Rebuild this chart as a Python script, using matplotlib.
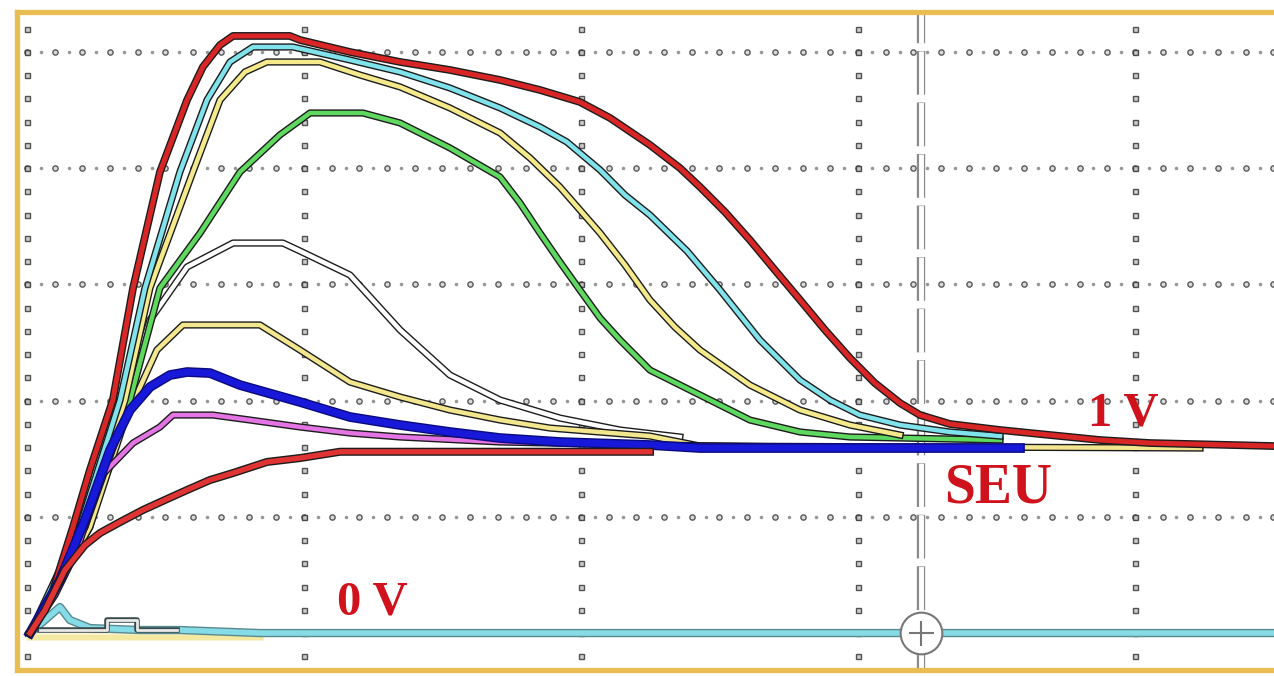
import numpy as np
import matplotlib.pyplot as plt
import matplotlib.patheffects as pe

# scope traces, in screen divisions (x: time div, y: volt div, 0 = ground line)
red_hi_x = [0.011, 0.083, 0.166, 0.227, 0.310, 0.383, 0.480, 0.578, 0.635, 0.697, 0.744, 0.949, 0.986, 1.166,
            1.347, 1.527, 1.708, 1.852, 1.996, 2.105, 2.249, 2.357, 2.430, 2.520, 2.610, 2.700, 2.791, 2.881,
            2.971, 3.061, 3.152, 3.224, 3.332, 3.513, 3.693, 3.874, 4.054, 4.502]
red_hi_y = [0.0, 0.284, 0.912, 1.403, 2.005, 2.969, 3.967, 4.587, 4.871, 5.060, 5.138, 5.138, 5.103, 5.000,
            4.914, 4.845, 4.759, 4.673, 4.570, 4.432, 4.200, 4.002, 3.838, 3.623, 3.382, 3.124, 2.866, 2.608,
            2.367, 2.151, 1.979, 1.876, 1.799, 1.747, 1.704, 1.661, 1.635, 1.609]

cyan_x = [0.011, 0.191, 0.336, 0.426, 0.552, 0.650, 0.733, 0.816, 0.960, 1.166, 1.347, 1.527, 1.708, 1.852,
          1.949, 2.069, 2.159, 2.249, 2.383, 2.502, 2.646, 2.791, 2.899, 3.007, 3.152, 3.332, 3.513]
cyan_y = [0.0, 0.912, 2.005, 2.969, 3.967, 4.587, 4.914, 5.043, 5.043, 4.931, 4.828, 4.690, 4.518, 4.355,
          4.226, 3.985, 3.769, 3.597, 3.287, 2.952, 2.522, 2.177, 2.005, 1.876, 1.790, 1.730, 1.695]

yellow_x = [0.011, 0.209, 0.354, 0.444, 0.599, 0.697, 0.787, 0.866, 1.058, 1.202, 1.347, 1.527, 1.708, 1.816,
            1.924, 2.069, 2.159, 2.249, 2.339, 2.430, 2.610, 2.791, 2.971, 3.152]
yellow_y = [0.0, 0.912, 2.005, 2.969, 3.967, 4.587, 4.828, 4.914, 4.914, 4.802, 4.699, 4.518, 4.303, 4.088,
            3.838, 3.442, 3.167, 2.866, 2.633, 2.435, 2.134, 1.919, 1.790, 1.704]

green_x = [0.011, 0.209, 0.372, 0.480, 0.625, 0.769, 0.913, 1.022, 1.213, 1.347, 1.527, 1.708, 1.780, 1.852,
           1.924, 1.996, 2.069, 2.141, 2.249, 2.430, 2.610, 2.791, 2.971, 3.513]
green_y = [0.0, 0.912, 2.005, 2.969, 3.442, 3.967, 4.286, 4.475, 4.475, 4.389, 4.174, 3.924, 3.700, 3.442,
           3.193, 2.952, 2.711, 2.522, 2.263, 2.048, 1.833, 1.730, 1.687, 1.661]

white_x = [0.011, 0.227, 0.354, 0.444, 0.578, 0.744, 0.924, 0.986, 1.166, 1.347, 1.527, 1.708, 1.924, 2.141,
           2.357]
white_y = [0.0, 0.912, 2.005, 2.694, 3.150, 3.356, 3.356, 3.287, 3.081, 2.608, 2.220, 2.005, 1.850, 1.747,
           1.687]

pale_x = [0.011, 0.227, 0.354, 0.469, 0.563, 0.841, 0.986, 1.166, 1.347, 1.527, 1.708, 1.888, 2.249, 2.430,
          4.235]
pale_y = [0.0, 0.912, 1.833, 2.435, 2.651, 2.651, 2.435, 2.160, 2.031, 1.919, 1.833, 1.764, 1.695, 1.609,
          1.592]

blue_x = [0.011, 0.119, 0.209, 0.300, 0.372, 0.444, 0.516, 0.578, 0.661, 0.769, 0.986, 1.166, 1.347, 1.527,
          1.708, 1.924, 2.249, 2.430, 3.585]
blue_y = [0.0, 0.456, 0.972, 1.575, 1.919, 2.117, 2.220, 2.246, 2.237, 2.134, 1.988, 1.859, 1.790, 1.730,
          1.678, 1.644, 1.618, 1.592, 1.592]

magenta_x = [0.011, 0.101, 0.181, 0.264, 0.383, 0.480, 0.527, 0.671, 0.805, 0.986, 1.166, 1.347, 1.708, 2.249,
             3.043]
magenta_y = [0.0, 0.327, 0.714, 1.343, 1.635, 1.773, 1.876, 1.876, 1.833, 1.773, 1.721, 1.687, 1.644, 1.618,
             1.592]

red_lo_x = [0.011, 0.065, 0.137, 0.209, 0.264, 0.336, 0.419, 0.498, 0.578, 0.661, 0.744, 0.866, 0.986, 1.130,
            2.249]
red_lo_y = [0.0, 0.198, 0.542, 0.757, 0.861, 0.955, 1.059, 1.145, 1.231, 1.317, 1.377, 1.472, 1.506, 1.560,
            1.560]

base_x = [0.011, 0.119, 0.155, 0.227, 0.408, 0.552, 0.841, 4.502]
base_y = [0.0, 0.224, 0.112, 0.043, 0.026, 0.026, 0.0, 0.0]
base_pale_x = [0.011, 0.841]
base_pale_y = [-0.034, -0.034]
base_grey_x = [0.047, 0.289, 0.289, 0.397, 0.397, 0.542]
base_grey_y = [0.026, 0.026, 0.110, 0.110, 0.026, 0.026]

cursor_x = 3.227
labels = [("1 V", 3.83, 1.79, 35), ("SEU", 3.31, 1.12, 40), ("0 V", 1.12, 0.16, 35)]

fig = plt.figure(figsize=(12.74, 6.76), dpi=100)
ax = fig.add_axes([17 / 1274, 6 / 676, 1257 / 1274, 658 / 676])
ax.set_xlim(-0.036, 4.502)
ax.set_ylim(-0.318, 5.344)
ax.set_xticks([])
ax.set_yticks([])
for side in ["left", "top", "bottom"]:
    ax.spines[side].set_color("#E9BD52")
    ax.spines[side].set_linewidth(3.8)
ax.spines["right"].set_visible(False)

# dotted graticule
gx = np.arange(0, 4.55, 0.1)
gx_minor = gx + 0.05
for gy in range(1, 6):
    ax.plot(gx, np.full_like(gx, gy), ls="none", marker="o", ms=3.8, mfc="#d4d4d4", mec="#404040",
            mew=1.0, alpha=0.85, zorder=1)
    ax.plot(gx_minor, np.full_like(gx_minor, gy), ls="none", marker="o", ms=1.6, mfc="#8a8a8a",
            mec="#8a8a8a", alpha=0.8, zorder=1)
gy_v = np.arange(-0.2, 5.35, 0.2)
for vx in range(0, 5):
    ax.plot(np.full_like(gy_v, vx), gy_v, ls="none", marker="s", ms=3.6, mfc="#c4c4c4", mec="#383838",
            mew=1.0, alpha=0.85, zorder=1)

# trigger cursor
ax.plot([cursor_x, cursor_x], [0.2, 5.34], color="white", lw=3.5, dashes=(9, 1.6), zorder=2,
        path_effects=[pe.Stroke(linewidth=6, foreground="#8a8a8a"), pe.Normal()])
ax.plot([cursor_x, cursor_x], [-0.3, -0.2], color="white", lw=3.5, zorder=2,
        path_effects=[pe.Stroke(linewidth=6, foreground="#8a8a8a"), pe.Normal()])


def trace(x, y, color, lw=3.2, edge="#1c1c1c", z=3):
    ax.plot(x, y, color=color, lw=lw, solid_joinstyle="round", zorder=z,
            path_effects=[pe.Stroke(linewidth=lw + 2.0, foreground=edge), pe.Normal()])


trace(base_pale_x, base_pale_y, "#F3E9A0", lw=3.5, edge="#f7f0c8", z=2.5)
trace(base_x, base_y, "#86DCE6", lw=4.0, edge="#5a8a90", z=2.6)
trace(base_grey_x, base_grey_y, "#e8e8e8", lw=2.0, edge="#3a4a4a", z=2.7)

trace(white_x, white_y, "white", z=3.0)
trace(pale_x, pale_y, "#F2E68E", z=3.1)
trace(green_x, green_y, "#5ED85E", z=3.2)
trace(yellow_x, yellow_y, "#F4EA8C", z=3.3)
trace(cyan_x, cyan_y, "#80E2EA", z=3.4)
trace(red_hi_x, red_hi_y, "#D82626", lw=3.6, z=3.5)
trace(magenta_x, magenta_y, "#E474E4", z=3.6)
trace(blue_x, blue_y, "#1818D8", lw=5.0, edge="#0a0a80", z=3.7)
trace(red_lo_x, red_lo_y, "#E03434", lw=3.8, z=3.8)

# cursor handle at the ground line
ax.plot([cursor_x], [0.0], ls="none", marker="o", ms=30, mfc="white", mec="#777777", mew=1.5, zorder=4)
ax.plot([cursor_x], [0.0], ls="none", marker="+", ms=18, mec="#777777", mew=1.5, zorder=4.1)

for txt, tx, ty, size in labels:
    ax.text(tx, ty, txt, color="#D0121C", fontsize=size, fontweight="bold", family="Liberation Serif",
            ha="left", va="baseline", zorder=5)

fig.savefig("out.png", dpi=100, facecolor="white")
